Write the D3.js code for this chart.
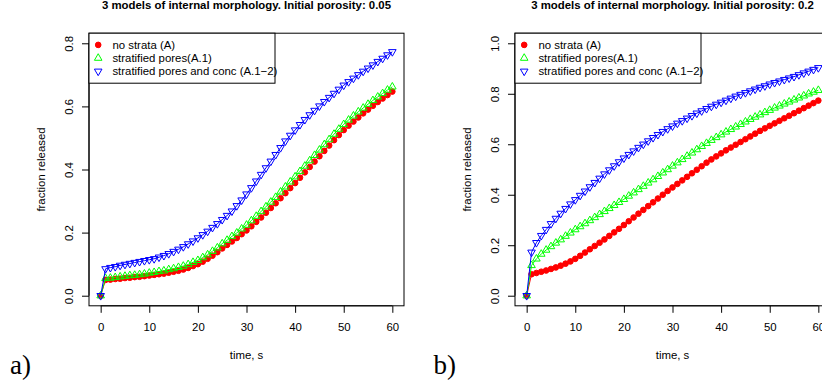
<!DOCTYPE html>
<html>
<head>
<meta charset="utf-8">
<script src="https://cdn.jsdelivr.net/npm/d3@7"></script>
<style>
body { margin: 0; background: #fff; }
svg { display: block; font-family: "Liberation Sans", Arial, sans-serif; }
</style>
</head>
<body>
<svg id="chart" width="822" height="387"></svg>
<script>
// time axis (s) and tick labels
var time_s = [0, 1, 2, 3, 4, 5, 6, 7, 8, 9,
    10, 11, 12, 13, 14, 15, 16, 17, 18, 19,
    20, 21, 22, 23, 24, 25, 26, 27, 28, 29,
    30, 31, 32, 33, 34, 35, 36, 37, 38, 39,
    40, 41, 42, 43, 44, 45, 46, 47, 48, 49,
    50, 51, 52, 53, 54, 55, 56, 57, 58, 59,
    60];
var x_ticks = [0, 10, 20, 30, 40, 50, 60];
var y_ticks_a = [0, 0.2, 0.4, 0.6, 0.8];
var y_ticks_b = [0, 0.2, 0.4, 0.6, 0.8, 1.0];

var series_names = ["no strata (A)", "stratified pores(A.1)", "stratified pores and conc (A.1\u22122)"];
var series_colors = ["#ff0000", "#00ff00", "#0000ff"];
var titles = ["3 models of internal morphology. Initial porosity: 0.05",
    "3 models of internal morphology. Initial porosity: 0.2"];
var panel_tags = ["a)", "b)"];

// panel a) porosity 0.05
var a_none = [0, 0.050, 0.051, 0.053, 0.054, 0.056, 0.057, 0.059, 0.060, 0.062,
    0.064, 0.066, 0.068, 0.070, 0.073, 0.076, 0.079, 0.083, 0.088, 0.094,
    0.100, 0.108, 0.117, 0.127, 0.138, 0.150, 0.161, 0.172, 0.183, 0.195,
    0.207, 0.220, 0.234, 0.248, 0.263, 0.278, 0.293, 0.309, 0.325, 0.341,
    0.357, 0.374, 0.391, 0.408, 0.425, 0.442, 0.459, 0.476, 0.493, 0.509,
    0.525, 0.539, 0.552, 0.565, 0.578, 0.590, 0.602, 0.614, 0.625, 0.636,
    0.647];
var a_pores = [0, 0.055, 0.056, 0.058, 0.060, 0.062, 0.064, 0.065, 0.067, 0.069,
    0.072, 0.074, 0.077, 0.079, 0.083, 0.086, 0.090, 0.094, 0.099, 0.106,
    0.112, 0.121, 0.130, 0.141, 0.152, 0.165, 0.176, 0.188, 0.199, 0.212,
    0.224, 0.238, 0.252, 0.267, 0.282, 0.297, 0.312, 0.329, 0.345, 0.361,
    0.377, 0.394, 0.411, 0.428, 0.445, 0.462, 0.479, 0.495, 0.512, 0.528,
    0.543, 0.557, 0.570, 0.583, 0.595, 0.607, 0.619, 0.630, 0.641, 0.652,
    0.662];
var a_conc = [0, 0.085, 0.089, 0.092, 0.096, 0.099, 0.102, 0.105, 0.108, 0.111,
    0.114, 0.117, 0.122, 0.127, 0.133, 0.140, 0.147, 0.155, 0.164, 0.173,
    0.183, 0.193, 0.204, 0.216, 0.228, 0.241, 0.254, 0.268, 0.285, 0.303,
    0.322, 0.342, 0.363, 0.384, 0.405, 0.426, 0.447, 0.469, 0.490, 0.508,
    0.525, 0.542, 0.558, 0.573, 0.587, 0.601, 0.615, 0.628, 0.641, 0.654,
    0.667, 0.678, 0.689, 0.700, 0.711, 0.721, 0.731, 0.742, 0.752, 0.763,
    0.773];

// panel b) porosity 0.2
var b_none = [0, 0.085, 0.090, 0.095, 0.100, 0.106, 0.112, 0.119, 0.127, 0.136,
    0.146, 0.158, 0.171, 0.184, 0.197, 0.210, 0.223, 0.237, 0.251, 0.265,
    0.280, 0.295, 0.310, 0.325, 0.340, 0.355, 0.370, 0.385, 0.400, 0.415,
    0.429, 0.443, 0.457, 0.471, 0.485, 0.499, 0.513, 0.527, 0.540, 0.552,
    0.564, 0.576, 0.587, 0.598, 0.609, 0.620, 0.631, 0.642, 0.653, 0.663,
    0.673, 0.683, 0.693, 0.703, 0.713, 0.723, 0.733, 0.743, 0.753, 0.763,
    0.773];
var b_pores = [0, 0.120, 0.146, 0.165, 0.181, 0.195, 0.209, 0.222, 0.236, 0.249,
    0.262, 0.274, 0.286, 0.298, 0.310, 0.322, 0.334, 0.346, 0.358, 0.370,
    0.382, 0.395, 0.408, 0.421, 0.434, 0.447, 0.460, 0.473, 0.487, 0.500,
    0.514, 0.527, 0.540, 0.553, 0.566, 0.579, 0.592, 0.604, 0.616, 0.627,
    0.638, 0.649, 0.659, 0.669, 0.679, 0.689, 0.699, 0.708, 0.717, 0.726,
    0.735, 0.744, 0.752, 0.760, 0.768, 0.776, 0.784, 0.792, 0.800, 0.807,
    0.814];
var b_conc = [0, 0.172, 0.210, 0.238, 0.262, 0.285, 0.306, 0.326, 0.345, 0.363,
    0.380, 0.397, 0.414, 0.431, 0.448, 0.465, 0.482, 0.498, 0.514, 0.530,
    0.545, 0.559, 0.573, 0.587, 0.600, 0.613, 0.626, 0.638, 0.650, 0.661,
    0.672, 0.683, 0.693, 0.703, 0.713, 0.723, 0.732, 0.741, 0.750, 0.758,
    0.766, 0.774, 0.782, 0.790, 0.797, 0.804, 0.811, 0.818, 0.825, 0.831,
    0.838, 0.844, 0.850, 0.856, 0.862, 0.868, 0.875, 0.882, 0.889, 0.896,
    0.903];

var x_lim = [0, 60],
    font_size = 11.4,
    box_top = 33.2,
    box_bottom = 305.8,
    box_width = 315,
    marker_size = 25;

// R style axis range: 4% padding on both sides
function extend(lim) {
    var d = (lim[1] - lim[0]) * 0.04;
    return [lim[0] - d, lim[1] + d];
}

// pch 19 / pch 2 / pch 6 look-alikes
function add_markers(g, values, x, y, k) {
    var pts = g.append("g").selectAll("path").data(values).enter().append("path");
    if (k == 0) {
        pts.attr("d", d3.symbol().type(d3.symbolCircle).size(marker_size))
            .attr("fill", series_colors[k]);
    } else {
        pts.attr("d", d3.symbol().type(d3.symbolTriangle).size(marker_size))
            .attr("fill", "none").attr("stroke-width", 1);
    }
    pts.attr("stroke", series_colors[k])
        .attr("transform", function (d, i) {
            return `translate(${x(time_s[i])},${y(d)})` + (k == 2 ? "rotate(180)" : "");
        });
    return pts;
}

function draw_panel(svg, p) {
    var x = d3.scaleLinear().domain(extend(x_lim)).range([p.left, p.left + box_width]);
    var y = d3.scaleLinear().domain(extend(p.y_lim)).range([box_bottom, box_top]);
    var g = svg.append("g");

    // data
    var line = d3.line().x(function (d, i) { return x(time_s[i]); }).y(function (d) { return y(d); });
    p.series.forEach(function (values, k) {
        g.append("path").datum(values).attr("d", line)
            .attr("fill", "none").attr("stroke", series_colors[k]).attr("stroke-width", 1);
        add_markers(g, values, x, y, k);
    });

    // box + axes
    g.append("rect").attr("x", p.left).attr("y", box_top)
        .attr("width", box_width).attr("height", box_bottom - box_top)
        .attr("fill", "none").attr("stroke", "#000").attr("stroke-width", 1);

    var gx = g.append("g").attr("transform", `translate(0,${box_bottom})`)
        .call(d3.axisBottom(x).tickValues(x_ticks).tickSize(7).tickSizeOuter(0));
    gx.select(".domain").remove();
    gx.append("line").attr("x1", x(x_ticks[0])).attr("x2", x(x_ticks[x_ticks.length - 1])).attr("stroke", "#000");
    gx.selectAll("text").attr("y", 25.2).attr("dy", null);

    var gy = g.append("g").attr("transform", `translate(${p.left},0)`)
        .call(d3.axisLeft(y).tickValues(p.y_ticks).tickFormat(d3.format(".1f")).tickSize(7).tickSizeOuter(0));
    gy.select(".domain").remove();
    gy.append("line").attr("y1", y(p.y_ticks[0])).attr("y2", y(p.y_ticks[p.y_ticks.length - 1])).attr("stroke", "#000");
    gy.selectAll("text").attr("x", null).attr("dy", null)
        .attr("text-anchor", "middle").attr("transform", "translate(-16,0)rotate(-90)");

    [gx, gy].forEach(function (a) {
        a.attr("font-size", font_size).attr("font-family", null);
        a.selectAll("text").attr("fill", "#000");
    });

    // labels
    var cx = p.left + box_width / 2;
    g.append("text").attr("x", cx).attr("y", 9.3).attr("text-anchor", "middle")
        .attr("font-size", font_size).attr("font-weight", "bold").text(p.title);
    g.append("text").attr("x", cx).attr("y", 359).attr("text-anchor", "middle")
        .attr("font-size", font_size).text("time, s");
    g.append("text").attr("text-anchor", "middle").attr("font-size", font_size)
        .attr("transform", `translate(${p.left - 43.8},${(box_top + box_bottom) / 2})rotate(-90)`)
        .text("fraction released");
    g.append("text").attr("x", p.tag_x).attr("y", 374)
        .attr("font-family", "'Liberation Serif', 'DejaVu Serif', serif").attr("font-size", 27)
        .text(p.tag);

    // legend, top left
    var lg = g.append("g").attr("transform", `translate(${p.left},${box_top})`);
    lg.append("rect").attr("width", 186).attr("height", 50)
        .attr("fill", "#fff").attr("stroke", "#000").attr("stroke-width", 1);
    var rows = lg.selectAll(".row").data(series_names).enter().append("g")
        .attr("class", "row").attr("transform", function (d, i) { return `translate(0,${11.7 + i * 13.2})`; });
    rows.append("path")
        .attr("d", function (d, i) { return d3.symbol().type(i ? d3.symbolTriangle : d3.symbolCircle).size(marker_size)(); })
        .attr("transform", function (d, i) { return "translate(9.2,0)" + (i == 2 ? "rotate(180)" : ""); })
        .attr("fill", function (d, i) { return i ? "none" : series_colors[i]; })
        .attr("stroke", function (d, i) { return series_colors[i]; })
        .attr("stroke-width", 1);
    rows.append("text").attr("x", 23.4).attr("dy", "0.36em")
        .attr("font-size", font_size).text(function (d) { return d; });
}

var svg = d3.select("#chart");
draw_panel(svg, {
    left: 89, y_lim: [0, 0.8], y_ticks: y_ticks_a, title: titles[0],
    tag: panel_tags[0], tag_x: 10, series: [a_none, a_pores, a_conc]
});
draw_panel(svg, {
    left: 515, y_lim: [0, 1], y_ticks: y_ticks_b, title: titles[1],
    tag: panel_tags[1], tag_x: 433.5, series: [b_none, b_pores, b_conc]
});
</script>
</body>
</html>
